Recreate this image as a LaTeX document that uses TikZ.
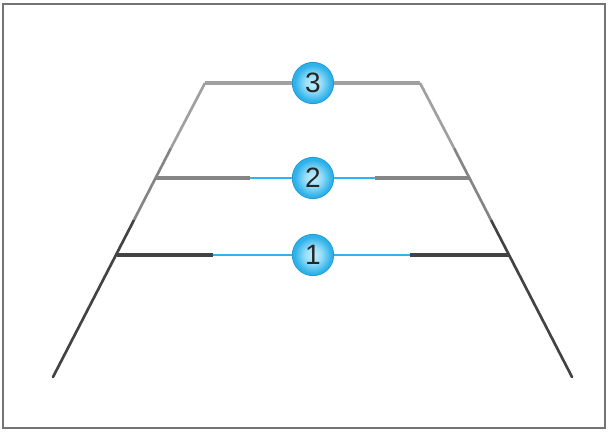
\documentclass[tikz,border=0pt]{standalone}
\usepackage{fontspec}
\setsansfont{Liberation Sans}
\usetikzlibrary{positioning}
\definecolor{raildk}{HTML}{434343}
\definecolor{railmd}{HTML}{858585}
\definecolor{raillt}{HTML}{A0A0A0}
\definecolor{guideblue}{HTML}{2DB4EC}
\definecolor{ballin}{HTML}{C4F0FE}
\definecolor{ballout}{HTML}{2FB2EA}
\definecolor{ballrim}{HTML}{1E9AD4}
\definecolor{framegray}{HTML}{747474}
\pgfdeclareradialshading{ballshade}{\pgfpoint{0bp}{0bp}}{color(0bp)=(ballin); color(10bp)=(ballin!70!ballout); color(22bp)=(ballout); color(50bp)=(ballout)}
\tikzset{
  raildark/.style  = {draw=raildk, line width=2pt, line cap=round},
  railmid/.style   = {draw=railmd, line width=2pt},
  raillight/.style = {draw=raillt, line width=2pt},
  bardark/.style   = {draw=raildk, line width=2.5pt},
  barmid/.style    = {draw=railmd, line width=2.5pt},
  barlight/.style  = {draw=raillt, line width=2.5pt},
  guide/.style     = {draw=guideblue, line width=1.1pt},
  markball/.style  = {circle, shading=ballshade, draw=ballrim, line width=0.6pt,
                      minimum size=31pt, inner sep=0pt,
                      font=\sffamily\fontsize{21}{21}\selectfont, text=black!85},
}

\begin{document}
\begin{tikzpicture}[x=0.75pt, y=-0.75pt]
  \useasboundingbox (0,0) rectangle (608,433);
  \draw[draw=framegray, line width=1.5pt] (3,4) rectangle (605,428);
  % left rail
  \coordinate (BL) at (53,377);
  \coordinate (LA) at (134,220);
  \coordinate (LB) at (171,148);
  \coordinate (L1) at (117,255);
  \coordinate (L2) at (156,178);
  \coordinate (TL) at (205,83);
  % right rail
  \coordinate (BR) at (572,377);
  \coordinate (RA) at (491,220);
  \coordinate (RB) at (454,148);
  \coordinate (R1) at (509,255);
  \coordinate (R2) at (469,178);
  \coordinate (TR) at (420,83);
  % ends of the blue guides
  \coordinate (P1l) at (213,255);
  \coordinate (P1r) at (410,255);
  \coordinate (P2l) at (250,178);
  \coordinate (P2r) at (375,178);
  \draw[raildark]  (BL) -- (LA);
  \draw[railmid]   (LA) -- (LB);
  \draw[raillight] (LB) -- (TL);
  \draw[raildark]  (BR) -- (RA);
  \draw[railmid]   (RA) -- (RB);
  \draw[raillight] (RB) -- (TR);
  \node[markball] (m1) at (313,255) {1};
  \node[markball] (m2) at (313,178) {2};
  \node[markball] (m3) at (313,83) {3};
  \draw[bardark] (L1) -- (P1l);
  \draw[guide] (P1l) -- (m1);
  \draw[guide] (m1) -- (P1r);
  \draw[bardark] (P1r) -- (R1);
  \draw[barmid] (L2) -- (P2l);
  \draw[guide] (P2l) -- (m2);
  \draw[guide] (m2) -- (P2r);
  \draw[barmid] (P2r) -- (R2);
  \draw[barlight] (TL) -- (m3);
  \draw[barlight] (m3) -- (TR);
\end{tikzpicture}
\end{document}
